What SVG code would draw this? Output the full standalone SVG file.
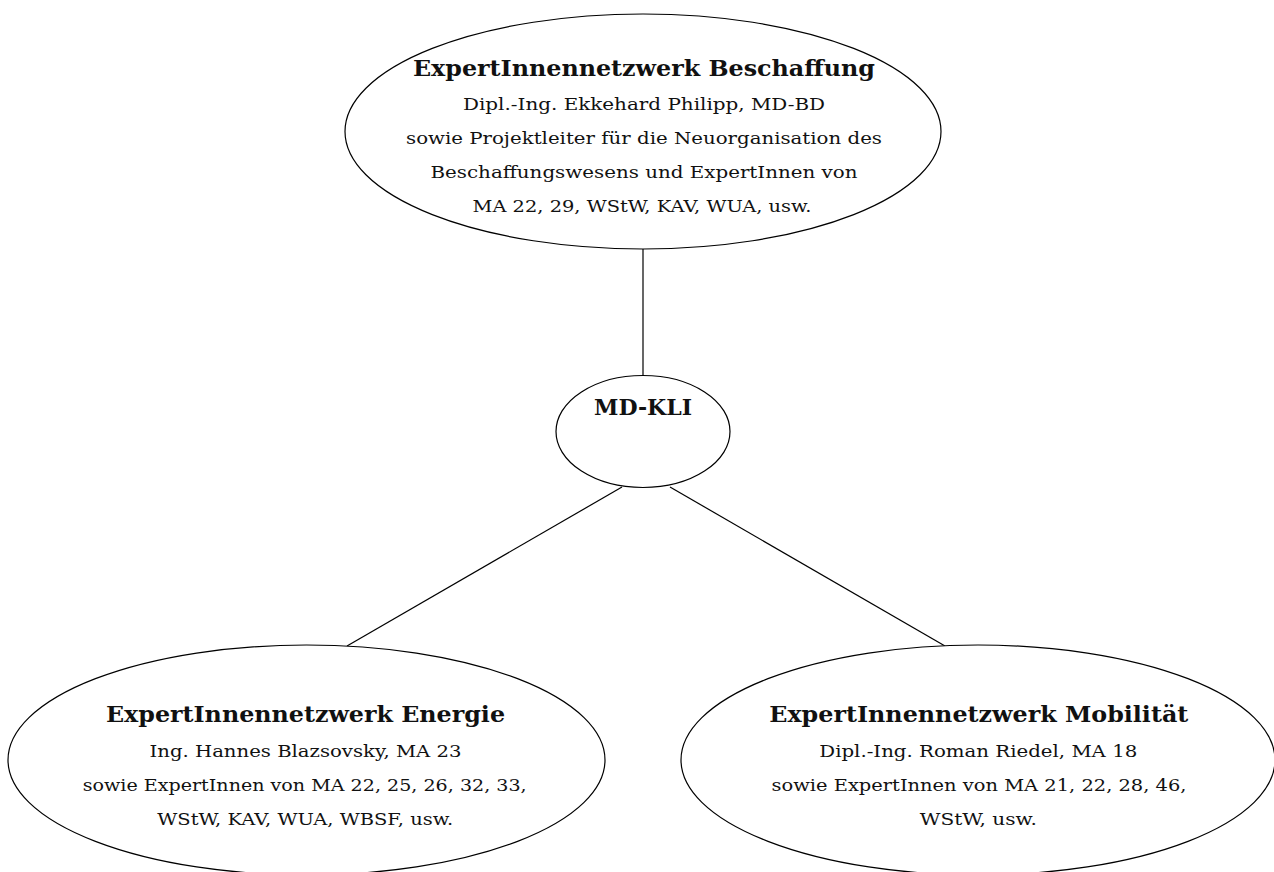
<svg xmlns="http://www.w3.org/2000/svg" width="1274" height="872" viewBox="0 0 1274 872">
<style>
.n{fill:#fff;stroke:#000;stroke-width:1.2}
.e{stroke:#000;stroke-width:1.2;fill:none}
text{font-family:"DejaVu Serif",serif;fill:#111;text-anchor:middle}
.t{font-weight:bold;font-size:21.5px}
.s{font-size:17.5px}
</style>
<rect width="1274" height="872" fill="#fff"/>
<g id="connectors">
<line class="e" x1="643" y1="249" x2="643" y2="376"/>
<line class="e" x1="622" y1="487" x2="347" y2="646"/>
<line class="e" x1="670" y1="487" x2="945" y2="646"/>
</g>
<g id="beschaffung">
<ellipse class="n" cx="643" cy="131.5" rx="298" ry="117.5"/>
<text class="t" x="644" y="76" textLength="462" lengthAdjust="spacingAndGlyphs">ExpertInnennetzwerk Beschaffung</text>
<text class="s" x="644" y="110" textLength="362" lengthAdjust="spacingAndGlyphs">Dipl.-Ing. Ekkehard Philipp, MD-BD</text>
<text class="s" x="644" y="144" textLength="476" lengthAdjust="spacingAndGlyphs">sowie Projektleiter für die Neuorganisation des</text>
<text class="s" x="644" y="178" textLength="427" lengthAdjust="spacingAndGlyphs">Beschaffungswesens und ExpertInnen von</text>
<text class="s" x="642" y="212" textLength="339" lengthAdjust="spacingAndGlyphs">MA 22, 29, WStW, KAV, WUA, usw.</text>
</g>
<g id="mdkli">
<ellipse class="n" cx="643" cy="431.5" rx="87" ry="56"/>
<text class="t" x="643" y="415" textLength="98" lengthAdjust="spacingAndGlyphs">MD-KLI</text>
</g>
<g id="energie">
<ellipse class="n" cx="306.5" cy="760" rx="298.5" ry="115"/>
<text class="t" x="305.5" y="722" textLength="399" lengthAdjust="spacingAndGlyphs">ExpertInnennetzwerk Energie</text>
<text class="s" x="305.5" y="756.5" textLength="312" lengthAdjust="spacingAndGlyphs">Ing. Hannes Blazsovsky, MA 23</text>
<text class="s" x="304.7" y="790.5" textLength="444" lengthAdjust="spacingAndGlyphs">sowie ExpertInnen von MA 22, 25, 26, 32, 33,</text>
<text class="s" x="305.3" y="825" textLength="296" lengthAdjust="spacingAndGlyphs">WStW, KAV, WUA, WBSF, usw.</text>
</g>
<g id="mobilitaet">
<ellipse class="n" cx="978" cy="760" rx="297" ry="115"/>
<text class="t" x="978.8" y="722" textLength="419" lengthAdjust="spacingAndGlyphs">ExpertInnennetzwerk Mobilität</text>
<text class="s" x="978.3" y="756.5" textLength="318" lengthAdjust="spacingAndGlyphs">Dipl.-Ing. Roman Riedel, MA 18</text>
<text class="s" x="979" y="790.5" textLength="415" lengthAdjust="spacingAndGlyphs">sowie ExpertInnen von MA 21, 22, 28, 46,</text>
<text class="s" x="978.3" y="825" textLength="117" lengthAdjust="spacingAndGlyphs">WStW, usw.</text>
</g>
</svg>
